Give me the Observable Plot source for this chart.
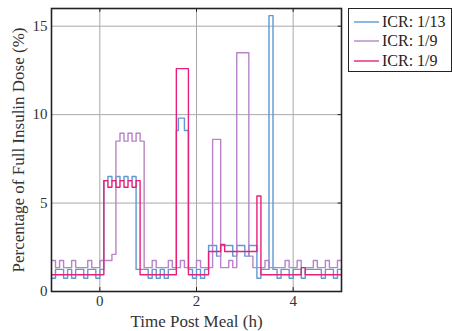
<!DOCTYPE html>
<html><head><meta charset="utf-8">
<script src="https://cdn.jsdelivr.net/npm/d3@7"></script>
<script src="https://cdn.jsdelivr.net/npm/@observablehq/plot@0.6"></script>
<style>
body{margin:0;background:#fff;}
#wrap{position:relative;width:452px;height:331px;font-family:"Liberation Serif",serif;}
#legend{position:absolute;left:348px;top:8px;width:104px;height:64px;border:1px solid #222;background:#fff;box-sizing:border-box;font-size:16px;color:#222;padding-top:3px;}
#legend .row{display:flex;align-items:center;height:19.5px;}
#legend svg{margin-left:5px;margin-right:3px;}
</style></head><body><div id="wrap"></div>
<script>
const legendLabels = ["ICR: 1/13", "ICR: 1/9", "ICR: 1/9"];
const colors = ["#5b9bd5", "#b784c9", "#e8207a"];
const xTicks = [0, 2, 4];
const yTicks = [0, 5, 10, 15];

// step-after breakpoints (hours) and values (%)
const blueT = [-1, -0.917, -0.75, -0.667, -0.583, -0.5, -0.333, -0.25, -0.083, 0, 0.083, 0.167, 0.25, 0.333, 0.417, 0.5, 0.583, 0.667, 0.75,
  1.0, 1.083, 1.167, 1.25, 1.333, 1.417, 1.583, 1.625, 1.75, 1.833, 1.917, 2.0, 2.083, 2.167, 2.25, 2.417, 2.5, 2.75, 2.833, 3.0, 3.083, 3.25, 3.333,
  3.5, 3.583, 3.667, 3.75, 3.917, 4.0, 4.167, 4.25, 4.583, 4.667, 4.833, 4.917, 5];
const blueV = [0.75, 1.25, 0.75, 1.25, 0.75, 1.25, 0.75, 1.25, 0.75, 1.25, 6.27, 6.5, 6.27, 6.5, 6.27, 6.5, 6.27, 6.5, 1.25,
  0.75, 1.25, 0.75, 1.25, 0.75, 1.25, 9.1, 9.8, 9.1, 1.25, 0.75, 1.25, 0.75, 1.25, 2.6, 2.0, 2.6, 2.0, 2.6, 2.0, 2.6, 0.75, 1.25,
  15.6, 1.25, 0.75, 1.25, 0.75, 1.25, 0.75, 1.25, 0.75, 1.25, 0.75, 1.25, 1.25];

const purpleT = [-1, -0.917, -0.833, -0.75, -0.583, -0.5, -0.25, -0.167, 0, 0.25, 0.333, 0.417, 0.5, 0.583, 0.667, 0.75, 0.833, 0.917,
  1.083, 1.167, 1.417, 1.5, 1.667, 1.75, 2.0, 2.083, 2.333, 2.5, 2.667, 2.75, 2.833, 3.083, 3.167, 3.417, 3.5,
  3.833, 3.917, 4.083, 4.167, 4.417, 4.5, 4.667, 4.75, 4.917, 5];
const purpleV = [1.75, 1.35, 1.75, 1.35, 1.75, 1.35, 1.75, 1.35, 1.75, 2.1, 8.5, 8.95, 8.5, 8.95, 8.5, 8.95, 8.5, 1.35,
  1.75, 1.35, 1.75, 1.35, 1.75, 1.35, 1.75, 1.35, 8.6, 1.35, 1.75, 1.35, 13.5, 2.0, 1.35, 1.75, 1.35,
  1.75, 1.35, 1.75, 1.35, 1.75, 1.35, 1.75, 1.35, 1.75, 1.75];

const pinkT = [-1, 0.083, 0.167, 0.25, 0.333, 0.417, 0.5, 0.583, 0.667, 0.75, 0.833, 1.583, 1.833, 2.25, 2.5, 2.583, 3.25, 3.333, 4.167, 4.25, 5];
const pinkV = [0.95, 6.27, 5.89, 6.27, 5.89, 6.27, 5.89, 6.27, 5.89, 6.27, 0.95, 12.6, 0.95, 2.26, 2.66, 2.26, 5.4, 0.95, 1.35, 0.95, 0.95];

const toRows = (T, V, s) => T.map((t, i) => ({t, v: V[i], s}));
const data = [
  ...toRows(blueT, blueV, 0),
  ...toRows(purpleT, purpleV, 1),
  ...toRows(pinkT, pinkV, 2)
];

const font = "Liberation Serif";
const chart = Plot.plot({
  width: 452, height: 331,
  marginLeft: 51, marginRight: 111, marginTop: 8, marginBottom: 40,
  style: {fontFamily: font, fontSize: "15px", color: "#333", background: "#fff"},
  x: {domain: [-1, 5]},
  y: {domain: [0, 16]},
  marks: [
    Plot.ruleX(xTicks, {stroke: "#a8a8a8", strokeWidth: 1}),
    Plot.ruleY(yTicks.filter(d => d > 0), {stroke: "#a8a8a8", strokeWidth: 1}),
    ...[0, 1, 2].map(s => Plot.line(data.filter(d => d.s === s), {x: "t", y: "v", curve: "step-after", stroke: colors[s], strokeWidth: 1.4})),
    Plot.ruleX(xTicks, {y1: 0, y2: 0.22, stroke: "#222"}),
    Plot.ruleX(xTicks, {y1: 16, y2: 15.78, stroke: "#222"}),
    Plot.ruleY(yTicks, {x1: 5, x2: 4.93, stroke: "#222"}),
    Plot.frame({stroke: "#222", strokeWidth: 1.6}),
    Plot.axisX(xTicks, {tickSize: 0, tickPadding: 4, label: null, fontSize: 15}),
    Plot.axisY(yTicks, {tickSize: 0, tickPadding: 4, label: null, fontSize: 15}),
    Plot.text(["Time Post Meal (h)"], {frameAnchor: "bottom", dy: 30, lineAnchor: "middle", fontSize: 17, fill: "#333"}),
    Plot.text(["Percentage of Full Insulin Dose (%)"], {frameAnchor: "left", dx: -33, rotate: -90, textAnchor: "middle", lineAnchor: "middle", fontSize: 17, fill: "#333"})
  ]
});

const wrap = document.getElementById("wrap");
wrap.appendChild(chart);
const leg = document.createElement("div");
leg.id = "legend";
legendLabels.forEach((lab, i) => {
  const row = document.createElement("div");
  row.className = "row";
  row.innerHTML = `<svg width="25" height="4"><line x1="0" x2="25" y1="2" y2="2" stroke="${colors[i]}" stroke-width="1.4"/></svg><span>${lab}</span>`;
  leg.appendChild(row);
});
wrap.appendChild(leg);
</script>
</body></html>
